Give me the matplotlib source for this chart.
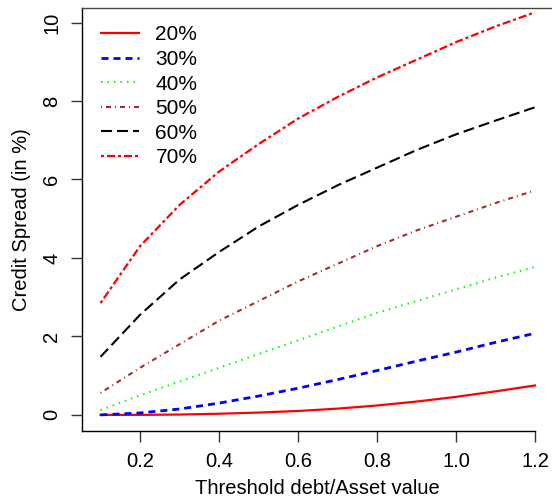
import matplotlib
matplotlib.use("Agg")
import matplotlib.pyplot as plt

plt.rcParams['font.family'] = ['Liberation Sans', 'DejaVu Sans']

x = [0.1, 0.2, 0.3, 0.4, 0.5, 0.6, 0.7, 0.8, 0.9, 1.0, 1.1, 1.2]
labels = ["20%", "30%", "40%", "50%", "60%", "70%"]
s20 = [0.0, 0.0, 0.01, 0.03, 0.06, 0.1, 0.16, 0.24, 0.34, 0.46, 0.6, 0.75]
s30 = [0.0, 0.05, 0.15, 0.3, 0.48, 0.68, 0.9, 1.13, 1.37, 1.6, 1.85, 2.08]
s40 = [0.12, 0.5, 0.85, 1.2, 1.55, 1.9, 2.25, 2.6, 2.9, 3.2, 3.5, 3.77]
s50 = [0.56, 1.2, 1.8, 2.4, 2.9, 3.4, 3.85, 4.3, 4.7, 5.05, 5.4, 5.72]
s60 = [1.48, 2.55, 3.45, 4.15, 4.8, 5.35, 5.85, 6.3, 6.75, 7.15, 7.5, 7.84]
s70 = [2.85, 4.3, 5.35, 6.2, 6.9, 7.55, 8.1, 8.6, 9.05, 9.5, 9.9, 10.26]
series = [s20, s30, s40, s50, s60, s70]
xticks = [0.2, 0.4, 0.6, 0.8, 1.0, 1.2]
yticks = [0, 2, 4, 6, 8, 10]

colors = ["#FF0000", "#0000FF", "#00FF00", "#A52A2A", "#000000", "#FF0000"]
lws = [1.6, 2.0, 1.5, 1.5, 1.5, 1.6]
def px(v):
    return v * 0.72
styles = [
    "-",
    (0, (px(7) / 2.0, px(5) / 2.0)),
    (0, (px(1.5) / 1.5, px(5) / 1.5)),
    (0, (px(1) / 1.5, px(4) / 1.5, px(5) / 1.5, px(4) / 1.5)),
    (0, (px(11) / 1.5, px(5) / 1.5)),
    (0, (px(3) / 1.6, px(3) / 1.6, px(8) / 1.6, px(3) / 1.6)),
]

fig = plt.figure(figsize=(5.52, 4.97), dpi=100)
ax = fig.add_axes([82 / 552, (497 - 431) / 497, 1 - 82 / 552, (431 - 8) / 497])

for s, c, lw, ls, lab in zip(series, colors, lws, styles, labels):
    ax.plot(x, s, color=c, lw=lw, linestyle=ls, label=lab)

x0 = 0.2 - 58 / 395
x1 = 0.2 + (552 - 140) / 395
ax.set_xlim(x0, x1)
ax.set_ylim(-0.41, 10.37)
ax.set_xticks(xticks)
ax.set_xticklabels(["0.2", "0.4", "0.6", "0.8", "1.0", "1.2"])
ax.set_yticks(yticks)
ax.set_yticklabels([str(v) for v in yticks], rotation=90, va='center')

ax.spines['right'].set_visible(False)
ax.spines['bottom'].set_bounds(x0, 1.2)
ax.spines['top'].set_color('#444444')
for sp in ax.spines.values():
    sp.set_linewidth(1.0)
ax.tick_params(axis='both', labelsize=14.5, length=8, width=1.0, color='#333333', pad=7)

ax.set_xlabel("Threshold debt/Asset value", fontsize=14.5, labelpad=6)
ax.set_ylabel("Credit Spread (in %)", fontsize=14.5, labelpad=8)

leg = ax.legend(loc='upper left', bbox_to_anchor=(12 / 470, 1 - 10 / 423), frameon=False, fontsize=15,
                handlelength=1.8, handletextpad=0.8, labelspacing=0.27,
                borderaxespad=0.0, borderpad=0.35)

fig.savefig("out.png", dpi=100)
